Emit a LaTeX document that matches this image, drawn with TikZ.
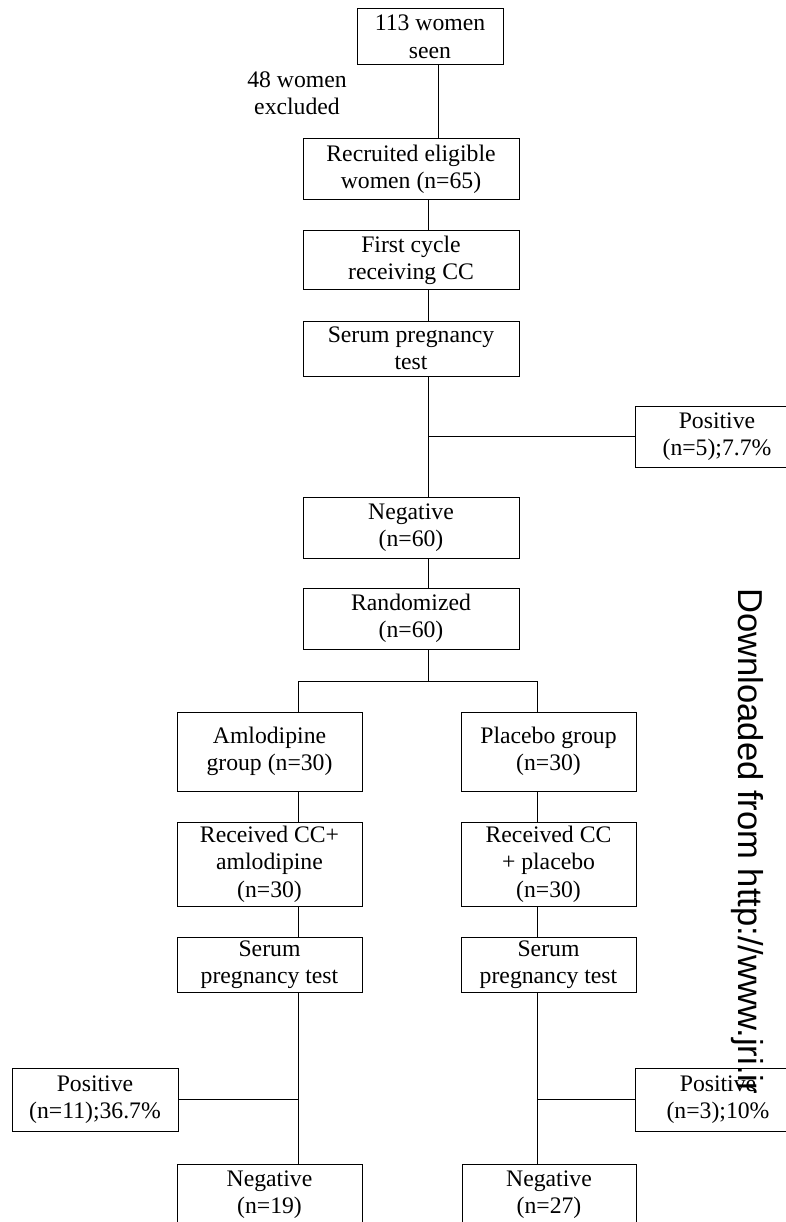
\documentclass[tikz,border=0pt]{standalone}
\usepackage{fontspec}
\setmainfont{Liberation Serif}
\newfontfamily\wmfont{Liberation Sans}
\usetikzlibrary{positioning}

\tikzset{
	flowbox/.style={draw, line width=1pt, align=center, inner sep=0pt,
		minimum width=216pt, minimum height=61pt,
		font=\fontsize{23.7}{27.5}\selectfont},
	armbox/.style={flowbox, minimum width=185pt},
	posbox/.style={flowbox, minimum width=166pt, minimum height=62pt},
	link/.style={line width=1pt}
}

\begin{document}
\begin{tikzpicture}[x=1pt, y=-1pt]
	\useasboundingbox (0,0) rectangle (785,1222);
	% main column
	\node[flowbox, minimum width=146pt, minimum height=56pt] (seen) at (430,37) {113 women\\seen};
	\node[font=\fontsize{23.7}{27.5}\selectfont, align=center, inner sep=0pt] (excl) at (297,93) {48 women\\excluded};
	\node[flowbox] (recruit) at (411,169.5) {Recruited eligible\\women (n=65)};
	\node[flowbox, minimum height=59pt] (cycle) at (411,260.5) {First cycle\\receiving CC};
	\node[flowbox, minimum height=55pt] (serum) at (411,348.5) {Serum pregnancy\\test};
	\node[posbox, minimum width=164pt, minimum height=61pt] (pos5) at (717,436.5) {Positive\\(n=5);7.7\%};
	\node[flowbox] (neg60) at (411,527.5) {Negative\\(n=60)};
	\node[flowbox] (rand) at (411,618.5) {Randomized\\(n=60)};
	% two arms
	\node[armbox, minimum height=79pt] (amlo) at (269.5,751.5) {Amlodipine\\group (n=30)};
	\node[armbox, minimum width=175pt, minimum height=79pt] (plac) at (548.5,751.5) {Placebo group\\(n=30)};
	\node[armbox, minimum height=84pt] (recA) at (269.5,864) {Received CC+\\amlodipine\\(n=30)};
	\node[armbox, minimum width=175pt, minimum height=84pt] (recP) at (548.5,864) {Received CC\\+ placebo\\(n=30)};
	\node[armbox, minimum height=55pt] (serA) at (269.5,964.5) {Serum\\pregnancy test};
	\node[armbox, minimum width=175pt, minimum height=55pt] (serP) at (548.5,964.5) {Serum\\pregnancy test};
	\node[posbox, minimum height=63pt] (posA) at (95,1099.5) {Positive\\(n=11);36.7\%};
	\node[posbox, minimum height=63pt] (posP) at (718,1099.5) {Positive\\(n=3);10\%};
	\node[armbox] (negA) at (269.5,1194.5) {Negative\\(n=19)};
	\node[armbox, minimum width=174pt] (negP) at (549,1194.5) {Negative\\(n=27)};

	\coordinate (top) at (438,0);
	\coordinate (trunk) at (428,0);
	\coordinate (armL) at (298,0);
	\coordinate (armR) at (537,0);
	\coordinate (split) at (0,681);

	\draw[link] (seen.south -| top) -- (recruit.north -| top);
	\draw[link] (recruit.south -| trunk) -- (cycle.north -| trunk);
	\draw[link] (cycle.south -| trunk) -- (serum.north -| trunk);
	\draw[link] (serum.south -| trunk) -- (neg60.north -| trunk);
	\draw[link] (pos5.west) -- (pos5.west -| trunk);
	\draw[link] (neg60.south -| trunk) -- (rand.north -| trunk);
	\draw[link] (rand.south -| trunk) -- (split -| trunk);
	\draw[link] (amlo.north -| armL) -- (split -| armL) -- (split -| armR) -- (plac.north -| armR);
	% left arm
	\draw[link] (amlo.south -| armL) -- (recA.north -| armL);
	\draw[link] (recA.south -| armL) -- (serA.north -| armL);
	\draw[link] (serA.south -| armL) -- (negA.north -| armL);
	\draw[link] (posA.east) -- (posA.east -| armL);
	% right arm
	\draw[link] (plac.south -| armR) -- (recP.north -| armR);
	\draw[link] (recP.south -| armR) -- (serP.north -| armR);
	\draw[link] (serP.south -| armR) -- (negP.north -| armR);
	\draw[link] (posP.west) -- (posP.west -| armR);

	\node[rotate=-90, anchor=base west, inner sep=0pt, font=\wmfont\fontsize{34.6}{40}\selectfont] (wm) at (738,588) {Downloaded from http://www.jri.ir};
\end{tikzpicture}
\end{document}
